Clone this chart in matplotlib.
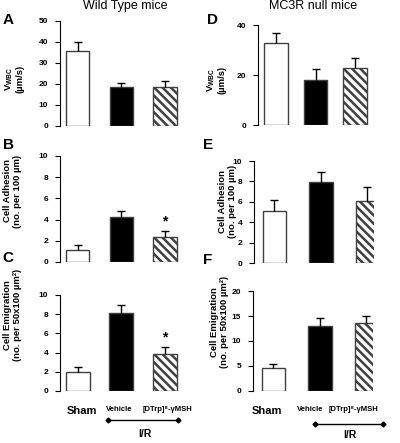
# bar charts of leukocyte responses: wild type vs MC3R null mice

import numpy as np
import matplotlib
matplotlib.use('Agg')
import matplotlib.pyplot as plt


# data
# ---

groups = ['Sham', 'Vehicle', '[DTrp]⁸-γMSH']

# wild type mice
wt_vwbc = [35.5, 18.5, 18.5]
wt_vwbc_err = [4.5, 2.0, 3.0]
wt_adh = [1.1, 4.2, 2.35]
wt_adh_err = [0.5, 0.6, 0.55]
wt_emig = [1.95, 8.15, 3.85]
wt_emig_err = [0.5, 0.85, 0.7]

# MC3R null mice
ko_vwbc = [33.0, 18.0, 23.0]
ko_vwbc_err = [4.0, 4.5, 4.0]
ko_adh = [5.1, 7.9, 6.05]
ko_adh_err = [1.1, 1.0, 1.45]
ko_emig = [4.6, 13.1, 13.6]
ko_emig_err = [0.7, 1.6, 1.4]

# which bars get a significance star
wt_adh_star = [False, False, True]
wt_emig_star = [False, False, True]


# style
# ---

plt.rcParams['font.family'] = ['Liberation Sans', 'DejaVu Sans']
plt.rcParams['mathtext.fontset'] = 'custom'
plt.rcParams['mathtext.rm'] = 'Liberation Sans'
plt.rcParams['mathtext.bf'] = 'Liberation Sans:bold'
plt.rcParams['hatch.linewidth'] = 1.8

fill_colors = ['white', 'black', 'white']
hatches = ['', '', '\\\\\\\\']

lbl_vwbc = '$\\mathbf{V}_{\\mathbf{WBC}}$\n(µm/s)'
lbl_adh = 'Cell Adhesion\n(no. per 100 µm)'
lbl_emig = 'Cell Emigration\n(no. per 50x100 µm²)'


def draw_panel(fig, rect, vals, errs, ylim, yticks, xlim, width, ylabel, lbl_xy, stars=None):
    ax = fig.add_axes(rect)
    x = np.arange(len(vals))
    ax.bar(x, vals, width=width, color=fill_colors, hatch=hatches,
           edgecolor='0.25', linewidth=1.0, zorder=2)
    eb = ax.errorbar(x, vals, yerr=[np.zeros(len(errs)), errs], fmt='none',
                     ecolor='black', elinewidth=1.0, capsize=3, capthick=1.0, zorder=3)
    eb[1][0].set_visible(False)
    if stars is not None:
        for xi, v, e, s in zip(x, vals, errs, stars):
            if s:
                ax.text(xi, v + e + 0.03 * (ylim[1] - ylim[0]), '*', ha='center', va='bottom',
                        fontsize=10, fontweight='bold')
    ax.set_xlim(xlim)
    ax.set_ylim(ylim)
    ax.set_yticks(yticks)
    ax.tick_params(axis='y', labelsize=6, length=3.5, width=0.8, pad=5, direction='out')
    for t in ax.get_yticklabels():
        t.set_fontweight('bold')
    ax.set_xticks([])
    for side in ['top', 'right', 'bottom']:
        ax.spines[side].set_visible(False)
    ax.spines['left'].set_linewidth(0.8)
    ax.patch.set_alpha(0)
    ax.text(lbl_xy[0], lbl_xy[1], ylabel, transform=ax.transAxes, rotation=90,
            ha='center', va='center', fontsize=6.8, fontweight='bold', linespacing=1.05)
    return ax


def add_group_labels(ax, xticks_shift, ir_x, ir_y, ir_lbl_xy):
    x = np.arange(len(groups)) + np.array(xticks_shift)
    ax.set_xticks(x)
    ax.set_xticklabels(groups)
    ax.tick_params(axis='x', length=0, pad=11)
    for i, t in enumerate(ax.get_xticklabels()):
        t.set_fontweight('bold')
        t.set_fontsize(8 if i == 0 else 5.5)
    trans = ax.get_xaxis_transform()
    ax.plot(ir_x, [ir_y, ir_y], color='black', lw=1.0, marker='D', markersize=2.5,
            transform=trans, clip_on=False)
    ax.text(ir_lbl_xy[0], ir_lbl_xy[1], 'I/R', transform=trans, ha='center', va='center',
            fontsize=7.5, fontweight='bold')


fig = plt.figure(figsize=(4.0, 4.43), dpi=100)

# wild type column
xl_left = (-0.41, 2.46)
draw_panel(fig, [0.15, 0.7156, 0.3125, 0.237], wt_vwbc, wt_vwbc_err, (0, 50),
           [0, 10, 20, 30, 40, 50], xl_left, 0.53, lbl_vwbc, (-0.37, 0.45))
draw_panel(fig, [0.15, 0.4086, 0.3125, 0.2393], wt_adh, wt_adh_err, (0, 10),
           [0, 2, 4, 6, 8, 10], xl_left, 0.53, lbl_adh, (-0.38, 0.67), wt_adh_star)
axC = draw_panel(fig, [0.15, 0.1174, 0.3125, 0.2167], wt_emig, wt_emig_err, (0, 10),
                 [0, 2, 4, 6, 8, 10], xl_left, 0.55, lbl_emig, (-0.38, 0.79), wt_emig_star)
add_group_labels(axC, [0.1, -0.05, 0.05], [0.69, 2.30], -0.30, (1.54, -0.45))

# MC3R null column
draw_panel(fig, [0.645, 0.7178, 0.29, 0.2257], ko_vwbc, ko_vwbc_err, (0, 40),
           [0, 20, 40], (-0.456, 2.48), 0.6, lbl_vwbc, (-0.36, 0.45))
draw_panel(fig, [0.635, 0.4063, 0.30, 0.2302], ko_adh, ko_adh_err, (0, 10),
           [0, 2, 4, 6, 8, 10], (-0.44, 2.14), 0.5, lbl_adh, (-0.22, 0.60))
axF = draw_panel(fig, [0.6325, 0.1174, 0.30, 0.2257], ko_emig, ko_emig_err, (0, 20),
                 [0, 5, 10, 15, 20], (-0.44, 2.14), 0.5, lbl_emig, (-0.28, 0.69))
add_group_labels(axF, [-0.14, -0.2, -0.27], [0.89, 2.36], -0.33, (1.65, -0.44))

# column titles and panel letters
fig.text(125 / 400, 1 - 6 / 443, 'Wild Type mice', ha='center', va='center', fontsize=9)
fig.text(313 / 400, 1 - 6 / 443, 'MC3R null mice', ha='center', va='center', fontsize=9)
letters = ['A', 'B', 'C', 'D', 'E', 'F']
letter_xy = [(8, 20), (8, 145), (8, 258), (212, 20), (208, 145), (208, 260)]
for s, (px, py) in zip(letters, letter_xy):
    fig.text(px / 400, 1 - py / 443, s, ha='center', va='center', fontsize=11, fontweight='bold')

plt.savefig('out.png', dpi=100)
plt.close()
